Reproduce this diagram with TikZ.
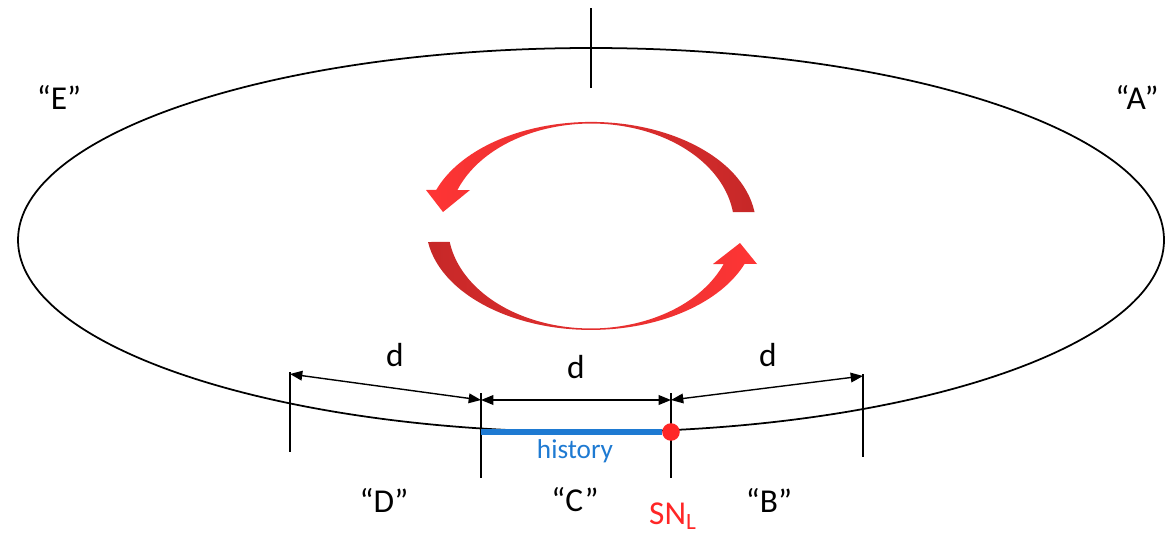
\documentclass[tikz,border=0pt]{standalone}
\usepackage{fontspec}
\setmainfont{Carlito}
\usetikzlibrary{arrows.meta,positioning}
\definecolor{ringbright}{HTML}{FF3535}
\definecolor{ringdark}{HTML}{C62828}
\definecolor{histblue}{HTML}{1E7AD2}
\definecolor{snred}{HTML}{FF2626}
\tikzset{
  ringline/.style={line width=1pt, draw=black},
  tickline/.style={line width=1pt, draw=black},
  dimarrow/.style={
    {Triangle[length=7pt,width=5.5pt]}-{Triangle[length=7pt,width=5.5pt]},
    line width=0.8pt
  },
  zonelabel/.style={font=\fontsize{19}{22}\selectfont, inner sep=0pt},
  dlabel/.style={font=\fontsize{19}{22}\selectfont, inner sep=0pt},
  cyclearrow/.style={draw=none}
}

\begin{document}
\begin{tikzpicture}[x=0.02cm, y=-0.02cm]
\useasboundingbox (0,0) rectangle (1175,534);

% ring of zones
\draw[ringline] (591,240) ellipse [x radius=573, y radius=192];
\coordinate (ttop) at (591,8);
\coordinate (tbot) at (591,88);
\draw[tickline] (ttop) -- (tbot);

% rotation arrows
\shade[cyclearrow, left color=ringbright, right color=ringdark]
  (754.5,212) arc[start angle=352.3, end angle=200.3, x radius=165, y radius=104]
  -- (426,190) -- (443,212) -- (470,190) -- (457.4,190)
  arc[start angle=200.6, end angle=352.2, x radius=143, y radius=102.5] -- cycle;
\shade[cyclearrow, left color=ringdark, right color=ringbright]
  (428,242) arc[start angle=171.1, end angle=21.4, x radius=165, y radius=104]
  -- (757,264) -- (740,243) -- (713,264) -- (723.7,264)
  arc[start angle=21.8, end angle=171.0, x radius=143, y radius=102.5] -- cycle;

% zone borders
\coordinate (dtop) at (290,372);
\coordinate (dbot) at (290,452);
\coordinate (cltop) at (481,393);
\coordinate (clbot) at (481,478);
\coordinate (crtop) at (671,393);
\coordinate (crbot) at (671,478);
\coordinate (btop) at (863,374);
\coordinate (bbot) at (863,457);
\foreach \t/\b in {dtop/dbot, cltop/clbot, crtop/crbot, btop/bbot}
  \draw[tickline] (\t) -- (\b);

% distances
\coordinate (dleft) at (290,374);
\coordinate (cleft) at (481,400);
\coordinate (cright) at (671,400);
\coordinate (bright) at (863,376);
\draw[dimarrow] (dleft) -- (cleft);
\draw[dimarrow] (cleft) -- (cright);
\draw[dimarrow] (cright) -- (bright);
\node[dlabel] (dD) at (395,355) {d};
\node[dlabel] (dC) at (576,367) {d};
\node[dlabel] (dB) at (768,355) {d};

% history and current position
\coordinate (hstart) at (481,432);
\node[circle, fill=snred, inner sep=0pt, minimum size=10pt] (snl) at (671,432) {};
\draw[histblue, line width=3.4pt] (hstart) -- (snl.west);
\node[font=\fontsize{15.5}{18}\selectfont, text=histblue, inner sep=0pt] (hist) at (575,451) {history};
\node[zonelabel, text=snred] (snlabel) at (673,516) {SN\textsubscript{L}};

% zone names
\node[zonelabel] (zoneE) at (59,97) {“E”};
\node[zonelabel] (zoneA) at (1137,97) {“A”};
\node[zonelabel] (zoneD) at (384,500) {“D”};
\node[zonelabel] (zoneC) at (575,500) {“C”};
\node[zonelabel] (zoneB) at (769,500) {“B”};
\end{tikzpicture}
\end{document}
